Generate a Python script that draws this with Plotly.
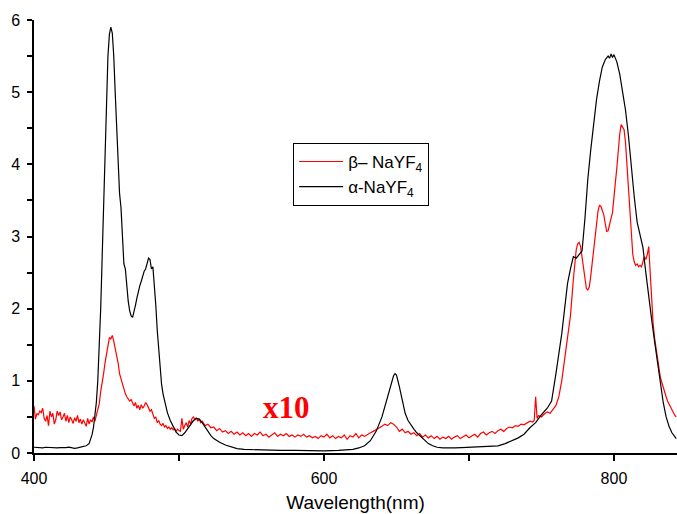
import plotly.graph_objects as go

# beta-NaYF4 emission (scaled x10)
beta_wl = [400, 401, 402, 403, 404, 405, 406, 407, 408, 409, 410, 411, 412, 413, 414, 415, 416, 417, 418, 419,
           420, 421, 422, 423, 424, 425, 426, 427, 428, 429, 430, 431, 432, 433, 434, 435, 436, 437, 438, 439,
           440, 441, 442, 443, 444, 445, 446, 447, 448, 449, 450, 451, 452, 453, 454, 455, 456, 457, 458, 459,
           460, 461, 462, 463, 464, 465, 466, 467, 468, 469, 470, 471, 472, 473, 474, 475, 476, 477, 478, 479,
           480, 481, 482, 483, 484, 485, 486, 487, 488, 489, 490, 491, 492, 493, 494, 495, 496, 497, 498, 499,
           500, 501, 502, 503, 504, 505, 506, 507, 508, 509, 510, 511, 512, 513, 514, 515, 516, 518, 520, 522,
           524, 526, 528, 530, 532, 534, 536, 538, 540, 542, 544, 546, 548, 550, 552, 554, 556, 558, 560, 562,
           564, 566, 568, 570, 572, 574, 576, 578, 580, 582, 584, 586, 588, 590, 592, 594, 596, 598, 600, 602,
           604, 606, 608, 610, 612, 614, 616, 618, 620, 622, 624, 626, 628, 630, 632, 634, 636, 638, 640, 642,
           644, 646, 648, 650, 652, 654, 656, 658, 660, 662, 664, 666, 668, 670, 672, 674, 676, 678, 680, 682,
           684, 686, 688, 690, 692, 694, 696, 698, 700, 702, 704, 706, 708, 710, 712, 714, 716, 718, 720, 722,
           724, 726, 728, 730, 732, 734, 736, 738, 740, 742, 744, 745, 746, 747, 748, 750, 752, 754, 756, 758,
           760, 762, 764, 766, 768, 770, 772, 774, 775, 776, 777, 778, 779, 780, 781, 782, 783, 784, 785, 786,
           787, 788, 789, 790, 791, 792, 793, 794, 795, 796, 797, 798, 799, 800, 801, 802, 803, 804, 805, 806,
           807, 808, 809, 810, 811, 812, 813, 814, 815, 816, 817, 818, 819, 820, 821, 822, 823, 824, 825, 826,
           827, 828, 829, 830, 831, 832, 833, 834, 835, 836, 837, 838, 839, 840, 841, 842, 843]
beta_int = [0.65, 0.47, 0.55, 0.53, 0.58, 0.56, 0.62, 0.48, 0.44, 0.52, 0.38, 0.58, 0.50, 0.55, 0.40, 0.46, 0.58, 0.52, 0.57, 0.46,
            0.50, 0.55, 0.44, 0.52, 0.42, 0.50, 0.46, 0.41, 0.49, 0.44, 0.52, 0.42, 0.47, 0.40, 0.46, 0.41, 0.37, 0.48, 0.40, 0.46,
            0.43, 0.50, 0.44, 0.52, 0.60, 0.68, 0.85, 0.95, 1.10, 1.25, 1.38, 1.50, 1.60, 1.58, 1.63, 1.55, 1.45, 1.38, 1.25, 1.10,
            1.02, 0.95, 0.88, 0.82, 0.78, 0.75, 0.72, 0.74, 0.68, 0.65, 0.70, 0.62, 0.66, 0.60, 0.67, 0.62, 0.65, 0.70, 0.67, 0.62,
            0.58, 0.60, 0.52, 0.48, 0.50, 0.42, 0.45, 0.40, 0.38, 0.41, 0.36, 0.38, 0.34, 0.36, 0.33, 0.35, 0.32, 0.34, 0.30, 0.33,
            0.31, 0.30, 0.48, 0.33, 0.38, 0.42, 0.36, 0.45, 0.40, 0.48, 0.50, 0.46, 0.49, 0.44, 0.47, 0.42, 0.44, 0.38, 0.40, 0.35,
            0.36, 0.31, 0.34, 0.29, 0.31, 0.27, 0.30, 0.26, 0.29, 0.25, 0.28, 0.24, 0.27, 0.23, 0.27, 0.25, 0.29, 0.24, 0.26, 0.22,
            0.25, 0.28, 0.23, 0.26, 0.24, 0.27, 0.23, 0.25, 0.22, 0.25, 0.23, 0.26, 0.22, 0.24, 0.21, 0.23, 0.20, 0.24, 0.22, 0.26,
            0.21, 0.24, 0.20, 0.23, 0.21, 0.25, 0.19, 0.24, 0.22, 0.27, 0.21, 0.25, 0.23, 0.26, 0.28, 0.30, 0.32, 0.35, 0.37, 0.40,
            0.38, 0.42, 0.40, 0.36, 0.30, 0.33, 0.28, 0.30, 0.26, 0.28, 0.24, 0.27, 0.22, 0.25, 0.21, 0.24, 0.20, 0.23, 0.19, 0.22,
            0.20, 0.23, 0.19, 0.22, 0.24, 0.20, 0.23, 0.25, 0.21, 0.24, 0.26, 0.22, 0.27, 0.29, 0.25, 0.28, 0.30, 0.27, 0.31, 0.33,
            0.30, 0.34, 0.36, 0.35, 0.38, 0.37, 0.40, 0.39, 0.42, 0.44, 0.43, 0.45, 0.78, 0.48, 0.52, 0.50, 0.54, 0.57, 0.55, 0.60,
            0.66, 0.78, 1.00, 1.30, 1.60, 1.90, 2.40, 2.82, 2.90, 2.92, 2.86, 2.70, 2.55, 2.38, 2.28, 2.26, 2.30, 2.45, 2.62, 2.85,
            3.02, 3.20, 3.35, 3.43, 3.42, 3.36, 3.30, 3.18, 3.07, 3.08, 3.15, 3.25, 3.33, 3.50, 3.75, 3.95, 4.20, 4.42, 4.55, 4.52,
            4.48, 4.30, 4.00, 3.75, 3.40, 3.05, 2.75, 2.65, 2.60, 2.62, 2.58, 2.60, 2.58, 2.65, 2.72, 2.68, 2.75, 2.86, 2.50, 2.10,
            1.80, 1.60, 1.45, 1.30, 1.15, 1.05, 0.98, 0.90, 0.84, 0.78, 0.72, 0.68, 0.64, 0.58, 0.56, 0.52, 0.50]

# alpha-NaYF4 emission
alpha_wl = [400, 402, 404, 406, 408, 410, 412, 414, 416, 418, 420, 422, 424, 426, 428, 430, 432, 434, 436, 438,
            439, 440, 441, 442, 443, 444, 445, 446, 447, 448, 449, 450, 451, 452, 453, 454, 455, 456, 457, 458,
            459, 460, 461, 462, 463, 464, 465, 466, 467, 468, 469, 470, 471, 472, 473, 474, 475, 476, 477, 478,
            479, 480, 481, 482, 483, 484, 485, 486, 487, 488, 489, 490, 491, 492, 494, 496, 498, 500, 502, 504,
            506, 508, 510, 512, 514, 516, 518, 520, 522, 524, 526, 528, 532, 536, 540, 545, 550, 560, 570, 580,
            590, 600, 610, 615, 620, 624, 628, 632, 636, 640, 643, 646, 648, 649, 650, 652, 654, 656, 658, 660,
            662, 664, 666, 668, 670, 672, 675, 678, 682, 686, 690, 695, 700, 705, 710, 715, 720, 725, 730, 734,
            738, 742, 746, 750, 754, 757, 760, 762, 764, 766, 768, 770, 772, 774, 776, 778, 780, 782, 784, 786,
            788, 790, 792, 794, 796, 797, 798, 799, 800, 802, 804, 806, 808, 810, 812, 814, 816, 818, 820, 822,
            824, 826, 828, 830, 832, 834, 836, 838, 840, 843]
alpha_int = [0.08, 0.075, 0.08, 0.07, 0.08, 0.075, 0.07, 0.065, 0.07, 0.075, 0.07, 0.075, 0.08, 0.07, 0.065, 0.07, 0.08, 0.09, 0.10, 0.13,
             0.18, 0.25, 0.35, 0.50, 0.70, 1.00, 1.45, 2.00, 2.70, 3.50, 4.30, 5.00, 5.50, 5.80, 5.90, 5.82, 5.50, 5.00, 4.50, 4.00,
             3.60, 3.40, 2.90, 2.62, 2.55, 2.30, 2.10, 1.97, 1.90, 1.88, 1.95, 2.05, 2.15, 2.25, 2.32, 2.38, 2.45, 2.52, 2.55, 2.62,
             2.70, 2.68, 2.55, 2.58, 2.35, 2.05, 1.70, 1.40, 1.15, 0.95, 0.82, 0.72, 0.62, 0.56, 0.45, 0.36, 0.29, 0.25, 0.24, 0.28,
             0.34, 0.40, 0.45, 0.48, 0.47, 0.42, 0.36, 0.30, 0.24, 0.20, 0.17, 0.15, 0.11, 0.08, 0.06, 0.05, 0.045, 0.04, 0.035, 0.035,
             0.03, 0.03, 0.035, 0.04, 0.05, 0.07, 0.10, 0.17, 0.30, 0.50, 0.72, 0.95, 1.07, 1.10, 1.08, 0.92, 0.72, 0.55, 0.45, 0.38,
             0.33, 0.28, 0.24, 0.20, 0.16, 0.13, 0.10, 0.08, 0.07, 0.065, 0.07, 0.075, 0.08, 0.085, 0.09, 0.09, 0.10, 0.13, 0.17, 0.21,
             0.26, 0.35, 0.42, 0.53, 0.62, 0.72, 1.10, 1.35, 1.65, 2.00, 2.35, 2.55, 2.72, 2.70, 2.75, 2.80, 3.25, 3.80, 4.20, 4.55,
             4.90, 5.15, 5.35, 5.45, 5.50, 5.47, 5.53, 5.48, 5.52, 5.42, 5.25, 5.00, 4.75, 4.40, 3.95, 3.55, 3.20, 3.00, 2.85, 2.50,
             2.15, 1.85, 1.55, 1.25, 0.95, 0.70, 0.50, 0.37, 0.28, 0.20]

series_names = ["β– NaYF<sub>4</sub>", "α-NaYF<sub>4</sub>"]
x_ticks = [400, 600, 800]
y_ticks = [0, 1, 2, 3, 4, 5, 6]
scale_note = "x10"

fig = go.Figure()
fig.add_trace(go.Scatter(x=beta_wl, y=beta_int, mode="lines", name=series_names[0],
                         legendgroup="beta", line=dict(color="#ff0000", width=1.2)))
fig.add_trace(go.Scatter(x=alpha_wl, y=alpha_int, mode="lines", name=series_names[1],
                         legendgroup="alpha", line=dict(color="#000000", width=1.2)))

fig.add_annotation(x=574, y=0.63, text="<b>" + scale_note + "</b>", showarrow=False,
                   font=dict(family="Liberation Serif, Times New Roman, serif", size=31, color="#ff0000"))

axis_font = dict(family="Arial, Liberation Sans, sans-serif", size=16, color="#000000")

fig.update_layout(
    width=677, height=514,
    margin=dict(l=34, r=0, t=20, b=61),
    paper_bgcolor="white", plot_bgcolor="white",
    font=axis_font,
    showlegend=True,
    legend=dict(x=0.403, y=0.716, xanchor="left", yanchor="top",
                bordercolor="#000000", borderwidth=1, bgcolor="white",
                font=dict(family="Arial, Liberation Sans, sans-serif", size=17, color="#000000"),
                tracegroupgap=8, traceorder="normal", itemwidth=44),
    xaxis=dict(range=[400, 843.5], tickvals=x_ticks, ticks="outside", ticklen=6, tickwidth=1.5,
               tickcolor="#000000", showline=True, linecolor="#000000", linewidth=1.5,
               showgrid=False, zeroline=False, tickfont=axis_font, ticklabelstandoff=4,
               minor=dict(dtick=100, tick0=400, ticks="outside", ticklen=6, tickwidth=1.5,
                          tickcolor="#000000", showgrid=False),
               title=dict(text="Wavelength(nm)", standoff=10,
                          font=dict(family="Arial, Liberation Sans, sans-serif", size=19))),
    yaxis=dict(range=[0, 6], tickvals=y_ticks, ticks="outside", ticklen=5, tickwidth=1.5,
               tickcolor="#000000", showline=True, linecolor="#000000", linewidth=1.5,
               showgrid=False, zeroline=False, tickfont=axis_font, ticklabelstandoff=4,
               minor=dict(dtick=0.5, tick0=0, ticks="outside", ticklen=5, tickwidth=1.5,
                          tickcolor="#000000", showgrid=False)),
)

fig.write_html("out.html")
